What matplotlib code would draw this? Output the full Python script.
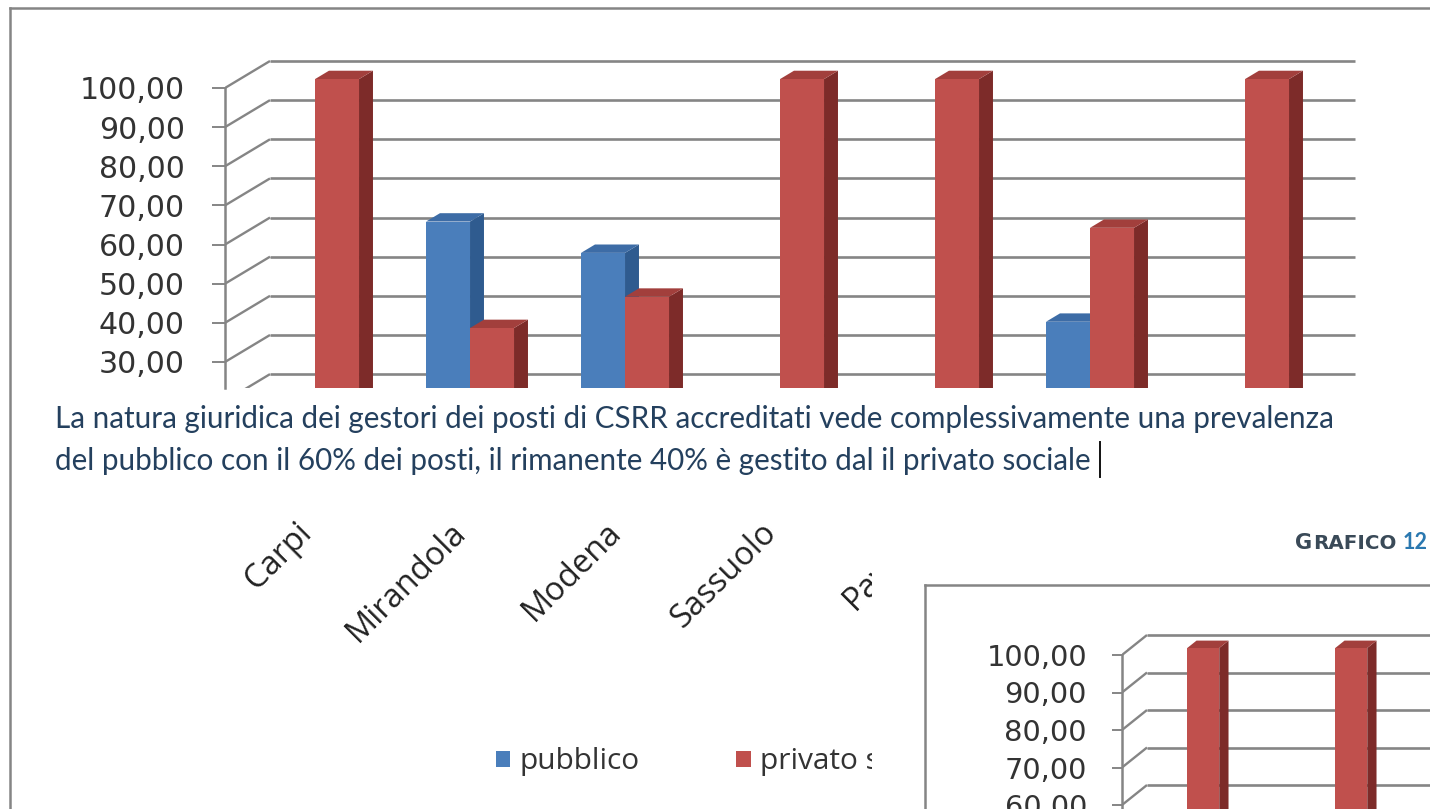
import matplotlib
matplotlib.use("Agg")
import matplotlib.pyplot as plt
from matplotlib.patches import Polygon, Patch, Rectangle
from matplotlib.transforms import blended_transform_factory

# posti CSRR accreditati per distretto, % per natura giuridica del gestore
categories = ["Carpi", "Mirandola", "Modena", "Sassuolo", "Pavullo", "Vignola", "Castelfranco E."]
pubblico = [0.0, 63.6, 55.6, 0.0, 0.0, 38.0, 0.0]
privato_sociale = [100.0, 36.4, 44.4, 100.0, 100.0, 62.0, 100.0]
series_names = ["pubblico", "privato sociale"]
main_ticks = [30, 40, 50, 60, 70, 80, 90, 100]

# grafico 12: prime colonne della serie privato sociale
g12_privato = [100.0, 100.0]
g12_ticks = [60, 70, 80, 90, 100]

paragraph = [
    "La natura giuridica dei gestori dei posti di CSRR accreditati vede complessivamente una prevalenza",
    "del pubblico con il 60% dei posti, il rimanente 40% è gestito dal il privato sociale",
]

W, H = 1430, 809
GRID = "#858585"
BLUE = ("#2f5b8f", "#3d6ca6", "#4a7ebb")   # side, top, front
RED = ("#7d2b29", "#a23f3c", "#c0504d")


def px_rect(left, top, right, bottom):
    return [left / W, 1 - bottom / H, (right - left) / W, (bottom - top) / H]


def fmt(v):
    return f"{v:.2f}".replace(".", ",")


def draw_walls(ax, ncat, dx, dy):
    for v in range(0, 101, 10):
        ax.plot([-0.5, -0.5 + dx], [v, v + dy], color=GRID, lw=1.7, zorder=1,
                solid_capstyle="butt")
        ax.plot([-0.5 + dx, ncat - 0.5 + dx], [v + dy, v + dy], color=GRID, lw=1.9,
                zorder=1, solid_capstyle="butt")


def draw_bar(ax, x0, w, v, d0, d1, dx, dy, colors):
    if v <= 0:
        return

    def p(x, y, d):
        return (x + d * dx, y + d * dy)

    x1 = x0 + w
    side = [p(x1, 0, d0), p(x1, 0, d1), p(x1, v, d1), p(x1, v, d0)]
    top = [p(x0, v, d0), p(x1, v, d0), p(x1, v, d1), p(x0, v, d1)]
    front = [p(x0, 0, d0), p(x1, 0, d0), p(x1, v, d0), p(x0, v, d0)]
    for pts, c in zip((side, top, front), colors):
        ax.add_patch(Polygon(pts, closed=True, fc=c, ec="none", zorder=3))


def style_value_axis(ax, ticks, size, length, pad):
    ax.set_yticks(ticks)
    ax.set_yticklabels([fmt(t) for t in ticks], fontfamily="DejaVu Sans")
    ax.tick_params(axis="y", length=length, width=1.4, color=GRID, pad=pad,
                   labelsize=size, labelcolor="#333333")
    ax.set_xticks([])
    for s in ("top", "right", "bottom"):
        ax.spines[s].set_visible(False)
    ax.spines["left"].set_color(GRID)
    ax.spines["left"].set_linewidth(1.8)
    ax.spines["left"].set_bounds(ax.get_ylim()[0], 100)
    ax.patch.set_visible(False)


fig = plt.figure(figsize=(W / 100, H / 100), dpi=100)

# ---- grafico principale ----
ax = fig.add_axes(px_rect(225, 40, 1400, 388))
ax.set_zorder(1)
ax.set_xlim(-0.5, -0.5 + 1175 / 155)
ax.set_ylim(100 - 300 / 3.914, 100 + 48 / 3.914)
DX, DY = 45 / 155, 27 / 3.914
BW = 44 / 155
draw_walls(ax, len(categories), DX, DY)
for i in range(len(categories)):
    draw_bar(ax, i - 0.015 - BW, BW, pubblico[i], 0.33, 0.64, DX, DY, BLUE)
    draw_bar(ax, i - 0.015, BW, privato_sociale[i], 0.33, 0.64, DX, DY, RED)
style_value_axis(ax, main_ticks, 21.6, 9.4, 19.5)

lab_tr = blended_transform_factory(ax.transData, fig.transFigure)
for i, name in enumerate(categories):
    ax.text(i + 0.1, 1 - 516 / H, name, transform=lab_tr, rotation=45,
            ha="right", va="top", fontsize=23.5, fontfamily="Open Sans",
            color="#222222", clip_on=False)

handles = [Patch(fc=BLUE[2], ec="none"), Patch(fc=RED[2], ec="none")]
ax.legend(handles, series_names, loc="center left",
          bbox_to_anchor=(496 / W, 1 - 762 / H), bbox_transform=fig.transFigure,
          ncol=2, frameon=False, borderpad=0, borderaxespad=0,
          handlelength=0.48, handleheight=0.48, handletextpad=0.3,
          columnspacing=3.25, prop={"family": "Open Sans", "size": 21.5},
          labelcolor="#333333")

# ---- pagina: cornici, testo ----
page = fig.add_axes([0, 0, 1, 1])
page.set_zorder(2)
page.set_xlim(0, W)
page.set_ylim(H, 0)
page.axis("off")
page.patch.set_visible(False)

page.add_patch(Rectangle((872, 495), W - 872, H - 495, fc="white", ec="none", zorder=1))
page.plot([10, W], [8, 8], color=GRID, lw=1.8, zorder=2)
page.plot([10, 10], [8, H], color=GRID, lw=1.8, zorder=2)
page.plot([925, W], [585, 585], color=GRID, lw=1.8, zorder=2)
page.plot([925, 925], [585, H], color=GRID, lw=1.8, zorder=2)

for k, line in enumerate(paragraph):
    page.text(55, 428 + 42 * k, line, ha="left", va="baseline", fontsize=21.3,
              fontfamily="Lato", color="#24405e", zorder=3)
page.plot([1100, 1100], [442, 477], color="#111111", lw=1.4, zorder=3)

page.text(1295, 549, "G", ha="left", va="baseline", fontsize=15, fontweight="bold",
          fontfamily="DejaVu Sans", color="#3a4a58", zorder=3)
page.text(1313, 549, "RAFICO", ha="left", va="baseline", fontsize=14.3, fontweight="bold",
          fontfamily="DejaVu Sans", color="#3a4a58", zorder=3)
page.text(1428, 549, "12", ha="right", va="baseline", fontsize=15.5, fontweight="bold",
          fontfamily="Lato", color="#2a78b0", zorder=3)

# ---- grafico 12 ----
ax2 = fig.add_axes(px_rect(1122, 595, W, H))
ax2.set_zorder(3)
ax2.set_xlim(-0.5, -0.5 + (W - 1122) / 148)
ax2.set_ylim(100 - 154 / 3.75, 100 + 60 / 3.75)
DX2, DY2 = 25 / 148, 20 / 3.75
BW2 = 32 / 148
draw_walls(ax2, 6, DX2, DY2)
for i, v in enumerate(g12_privato):
    draw_bar(ax2, i - 0.01 - BW2 / 2, BW2, v, 0.35, 0.72, DX2, DY2, RED)
style_value_axis(ax2, g12_ticks, 20.8, 7.2, 18)

fig.savefig("out.png", dpi=100, facecolor="white")
